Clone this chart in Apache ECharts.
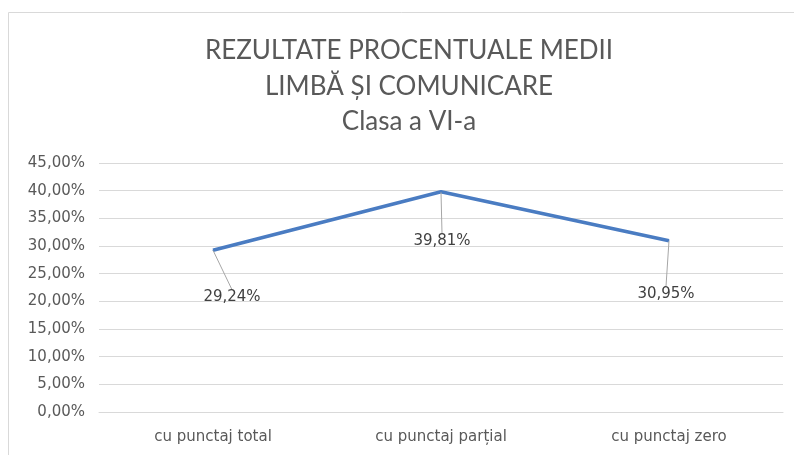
<!DOCTYPE html>
<html>
<head>
<meta charset="utf-8">
<script src="https://cdn.jsdelivr.net/npm/echarts@6/dist/echarts.min.js"></script>
<style>
  html, body { margin: 0; padding: 0; background: #fff; }
  #main { width: 794px; height: 455px; }
</style>
</head>
<body>
<div id="main"></div>
<script>
// categorii si valori (procente)
var categories = ['cu punctaj total', 'cu punctaj parțial', 'cu punctaj zero'];
var values = [29.24, 39.81, 30.95];
// deplasarea etichetelor fata de punct
var labelDx = [19, 1, -3];
var labelDy = [47, 49, 53];

var chart = echarts.init(document.getElementById('main'));

function pct(v) {
    return v.toFixed(2).replace('.', ',') + '%';
}

chart.setOption({
    animation: false,
    title: {
        text: 'REZULTATE PROCENTUALE MEDII\nLIMBĂ ȘI COMUNICARE\nClasa a VI-a',
        left: 404,
        top: 28,
        textAlign: 'center',
        textStyle: {
            fontFamily: 'Lato',
            fontWeight: 'normal',
            fontSize: 26,
            lineHeight: 35.5,
            color: '#595959'
        }
    },
    graphic: [{
        type: 'rect',
        shape: { x: 8.5, y: 12.5, width: 820, height: 480 },
        style: { fill: 'none', stroke: '#d9d9d9', lineWidth: 1 },
        silent: true
    }],
    grid: { left: 99, right: 11, top: 163, bottom: 43 },
    xAxis: {
        type: 'category',
        data: categories,
        axisLine: { lineStyle: { color: '#d9d9d9' } },
        axisTick: { show: false },
        axisLabel: {
            color: '#595959',
            fontFamily: 'DejaVu Sans',
            fontSize: 15,
            margin: 18
        }
    },
    yAxis: {
        type: 'value',
        min: 0,
        max: 45,
        interval: 5,
        axisLine: { show: false },
        axisTick: { show: false },
        splitLine: { lineStyle: { color: '#d9d9d9' } },
        axisLabel: {
            color: '#595959',
            fontFamily: 'DejaVu Sans',
            fontSize: 15,
            margin: 14,
            formatter: function (v) { return pct(v); }
        }
    },
    series: [{
        type: 'line',
        data: values,
        symbol: 'circle',
        symbolSize: 1,
        itemStyle: { color: '#4a7cc2' },
        lineStyle: { color: '#4a7cc2', width: 3.5 },
        label: {
            show: true,
            position: 'inside',
            color: '#404040',
            fontFamily: 'DejaVu Sans',
            fontSize: 15,
            formatter: function (p) { return pct(p.value); }
        },
        labelLine: {
            show: true,
            lineStyle: { color: '#a6a6a6', width: 1 }
        },
        labelLayout: function (p) {
            return { dx: labelDx[p.dataIndex], dy: labelDy[p.dataIndex] };
        }
    }]
});
</script>
</body>
</html>
